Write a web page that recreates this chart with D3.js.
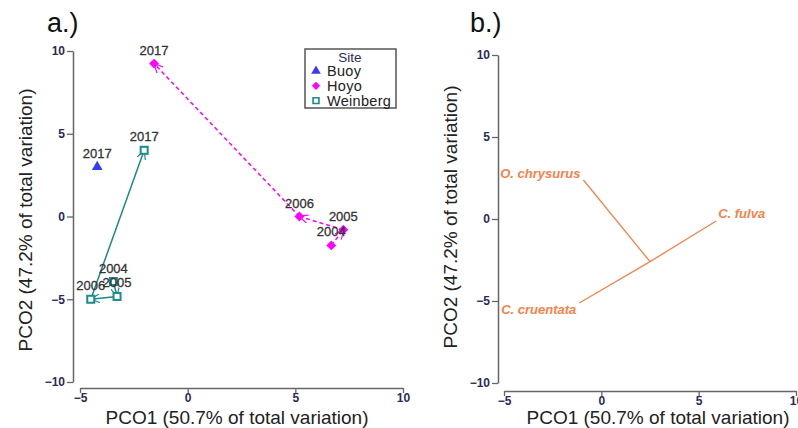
<!DOCTYPE html>
<html>
<head>
<meta charset="utf-8">
<script src="https://cdn.jsdelivr.net/npm/d3@7"></script>
<style>
  body { margin: 0; background: #fff; }
  svg { font-family: "Liberation Sans", Arial, sans-serif; }
</style>
</head>
<body>
<div id="chart"></div>
<script>
// 1: DATA
const sites = ["Buoy", "Hoyo", "Weinberg"];
const siteColors = ["#3a3af5", "#ff00ff", "#1a8a8a"];

const buoyYears = ["2017"];
const buoyX = [-4.2];
const buoyY = [3.0];

const hoyoYears = ["2004", "2005", "2006", "2017"];
const hoyoX = [6.67, 7.23, 5.19, -1.56];
const hoyoY = [-1.75, -0.8, 0.0, 9.24];

const weinYears = ["2004", "2005", "2006", "2017"];
const weinX = [-3.45, -3.28, -4.5, -2.02];
const weinY = [-3.93, -4.83, -5.0, 4.0];

const species = ["O. chrysurus", "C. fulva", "C. cruentata"];
const vecX = [-0.92, 5.9, -1.13];
const vecY = [2.38, -0.12, -5.12];
const vecOrigin = [2.5, -2.6];

const axisTicks = [-10, -5, 0, 5, 10];
const xTicks = [-5, 0, 5, 10];
const xTitle = "PCO1 (50.7% of total variation)";
const yTitle = "PCO2 (47.2% of total variation)";

// 2: SVG
const W = 798, H = 428;
const svg = d3.select("#chart").append("svg")
    .attr("width", W)
    .attr("height", H);

const defs = svg.append("defs");
function arrowMarker(id, color) {
    defs.append("marker")
        .attr("id", id)
        .attr("viewBox", "0 0 10 10")
        .attr("refX", 10)
        .attr("refY", 5)
        .attr("markerWidth", 9)
        .attr("markerHeight", 9)
        .attr("markerUnits", "userSpaceOnUse")
        .attr("orient", "auto")
        .append("path")
        .attr("d", "M0,0 L10,5 L0,10")
        .attr("fill", "none")
        .attr("stroke", color)
        .attr("stroke-width", 1.3);
}
arrowMarker("arrH", siteColors[1]);
arrowMarker("arrW", siteColors[2]);

// 3: AXES HELPER
function drawAxes(x, y, xAxisY, yAxisX, label, labelX, yMid, xMid) {
    const ya = svg.append("g")
        .attr("transform", `translate(${yAxisX},0)`)
        .call(d3.axisLeft(y).tickValues(axisTicks).tickSize(6).tickSizeOuter(0).tickPadding(2));
    const xa = svg.append("g")
        .attr("transform", `translate(0,${xAxisY})`)
        .call(d3.axisBottom(x).tickValues(xTicks).tickSize(5).tickSizeOuter(0).tickPadding(0));
    [ya, xa].forEach(g => {
        g.select(".domain").attr("stroke", "#666").attr("stroke-width", 1.5);
        g.selectAll(".tick line").attr("stroke", "#666").attr("stroke-width", 1.3);
        g.selectAll(".tick text")
            .attr("fill", "#2b2b55")
            .style("font-size", "12px")
            .style("font-weight", "bold");
    });

    svg.append("text")
        .attr("x", xMid)
        .attr("y", 424)
        .attr("text-anchor", "middle")
        .style("font-size", "19px")
        .attr("fill", "#222")
        .text(xTitle);

    svg.append("text")
        .attr("transform", `translate(${yAxisX - 41},${yMid}) rotate(-90)`)
        .attr("text-anchor", "middle")
        .style("font-size", "19px")
        .attr("fill", "#222")
        .text(yTitle);

    svg.append("text")
        .attr("x", labelX)
        .attr("y", 32)
        .style("font-size", "27px")
        .attr("fill", "#111")
        .text(label);
}

// ==========================================
//         PANEL A — PCO ORDINATION
// ==========================================
const xA = d3.scaleLinear().domain([-5, 10]).range([80, 403]);
const yA = d3.scaleLinear().domain([-10, 10]).range([382, 51]);
drawAxes(xA, yA, 388, 73, "a.)", 47, 220, 237);

const toPts = (xs, ys, yrs) => xs.map((v, i) => ({ x: v, y: ys[i], year: yrs[i] }));
const hoyo = toPts(hoyoX, hoyoY, hoyoYears);
const wein = toPts(weinX, weinY, weinYears);
const buoy = toPts(buoyX, buoyY, buoyYears);

// trajectories
function drawPath(pts, color, marker, dash) {
    const segs = d3.pairs(pts);
    svg.append("g").selectAll("line")
        .data(segs)
        .enter()
        .append("line")
        .attr("x1", d => xA(d[0].x))
        .attr("y1", d => yA(d[0].y))
        .attr("x2", d => xA(d[1].x))
        .attr("y2", d => yA(d[1].y))
        .attr("stroke", color)
        .attr("stroke-width", 1.5)
        .attr("stroke-dasharray", dash)
        .attr("marker-end", `url(#${marker})`);
}
drawPath(hoyo, siteColors[1], "arrH", "4,3");
drawPath(wein, siteColors[2], "arrW", null);

// points
svg.append("g").selectAll("path")
    .data(buoy)
    .enter()
    .append("path")
    .attr("transform", d => `translate(${xA(d.x)},${yA(d.y)})`)
    .attr("d", d3.symbol().type(d3.symbolTriangle).size(50))
    .attr("fill", siteColors[0]);

svg.append("g").selectAll("path")
    .data(hoyo)
    .enter()
    .append("path")
    .attr("transform", d => `translate(${xA(d.x)},${yA(d.y)}) rotate(45)`)
    .attr("d", d3.symbol().type(d3.symbolSquare).size(48))
    .attr("fill", siteColors[1]);

svg.append("g").selectAll("rect")
    .data(wein)
    .enter()
    .append("rect")
    .attr("x", d => xA(d.x) - 3.5)
    .attr("y", d => yA(d.y) - 3.5)
    .attr("width", 7)
    .attr("height", 7)
    .attr("fill", "#fff")
    .attr("stroke", siteColors[2])
    .attr("stroke-width", 2);

// year labels
svg.append("g").selectAll("text")
    .data(buoy.concat(hoyo, wein))
    .enter()
    .append("text")
    .attr("x", d => xA(d.x))
    .attr("y", d => yA(d.y) - 9)
    .attr("text-anchor", "middle")
    .style("font-size", "13px")
    .attr("fill", "#333")
    .attr("stroke", "#333")
    .attr("stroke-width", 0.3)
    .text(d => d.year);

// legend
const lg = svg.append("g").attr("transform", "translate(305,49)");
lg.append("rect")
    .attr("width", 91)
    .attr("height", 59)
    .attr("fill", "#fff")
    .attr("stroke", "#555")
    .attr("stroke-width", 1.5);
lg.append("text")
    .attr("x", 45)
    .attr("y", 12.5)
    .attr("text-anchor", "middle")
    .style("font-size", "13.5px")
    .attr("fill", "#2b2b55")
    .text("Site");
const items = lg.selectAll(".item")
    .data(sites)
    .enter()
    .append("g")
    .attr("class", "item")
    .attr("transform", (d, i) => `translate(11,${22 + i * 14.8})`);
items.append("path")
    .attr("transform", (d, i) => i === 1 ? "rotate(45)" : null)
    .attr("d", (d, i) => d3.symbol().type(i === 0 ? d3.symbolTriangle : d3.symbolSquare).size(i === 0 ? 40 : 34)())
    .attr("fill", (d, i) => i === 2 ? "#fff" : siteColors[i])
    .attr("stroke", (d, i) => i === 2 ? siteColors[i] : "none")
    .attr("stroke-width", 1.6);
items.append("text")
    .attr("x", 11)
    .attr("y", 5)
    .style("font-size", "14.5px")
    .style("letter-spacing", "0.3px")
    .attr("fill", "#222")
    .text(d => d);

// ==========================================
//         PANEL B — VECTOR OVERLAY
// ==========================================
const xB = d3.scaleLinear().domain([-5, 10]).range([504, 796]);
const yB = d3.scaleLinear().domain([-10, 10]).range([383, 55]);
drawAxes(xB, yB, 391, 498, "b.)", 470, 217, 658);

const vecs = species.map((s, i) => ({ name: s, x: vecX[i], y: vecY[i] }));
const vecColor = "#f7824a";

svg.append("g").selectAll("line")
    .data(vecs)
    .enter()
    .append("line")
    .attr("x1", xB(vecOrigin[0]))
    .attr("y1", yB(vecOrigin[1]))
    .attr("x2", d => xB(d.x))
    .attr("y2", d => yB(d.y))
    .attr("stroke", vecColor)
    .attr("stroke-width", 1.3);

const labelAnchor = ["end", "start", "end"];
const labelDx = [-3, 2, -3];
const labelDy = [-2, -3, 11];
svg.append("g").selectAll("text")
    .data(vecs)
    .enter()
    .append("text")
    .attr("x", (d, i) => xB(d.x) + labelDx[i])
    .attr("y", (d, i) => yB(d.y) + labelDy[i])
    .attr("text-anchor", (d, i) => labelAnchor[i])
    .style("font-size", "13px")
    .style("font-weight", "bold")
    .style("font-style", "italic")
    .attr("fill", vecColor)
    .text(d => d.name);
</script>
</body>
</html>
